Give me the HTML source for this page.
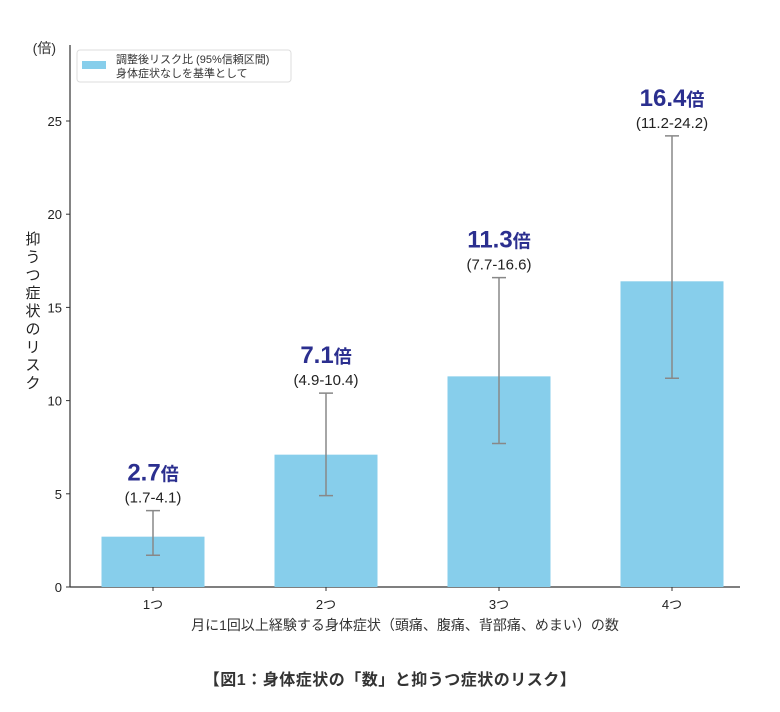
<!DOCTYPE html>
<html><head><meta charset="utf-8"><style>
body{margin:0;background:#fff;}
svg text{font-family:"Liberation Sans","Noto Sans CJK JP",sans-serif;}
</style></head><body>
<svg id="chart" width="780" height="707" xmlns="http://www.w3.org/2000/svg">
<rect width="780" height="707" fill="#fff"/>
<g id="g"></g>
</svg>
<script>
const categories=["1つ","2つ","3つ","4つ"];
const values=[2.7,7.1,11.3,16.4];
const lowers=[1.7,4.9,7.7,11.2];
const uppers=[4.1,10.4,16.6,24.2];
const ciLabels=["(1.7-4.1)","(4.9-10.4)","(7.7-16.6)","(11.2-24.2)"];
const yTicks=[0,5,10,15,20,25];
const NS="http://www.w3.org/2000/svg";
const g=document.getElementById('g');
const y0=587, unit=18.64, x0=153, step=173, bw=103;
const Y=v=>y0-v*unit, X=i=>x0+i*step;
function el(t,a,txt){const e=document.createElementNS(NS,t);for(const k in a)e.setAttribute(k,a[k]);if(txt!=null)e.textContent=txt;g.appendChild(e);return e;}
let ax=el('line',{x1:70,y1:45,x2:70,y2:y0,stroke:'#333','stroke-width':1.2});


let axx=el('line',{x1:70,y1:y0,x2:740,y2:y0,stroke:'#333','stroke-width':1.2});


yTicks.forEach(v=>{
  let t=el('line',{x1:66,y1:Y(v),x2:70,y2:Y(v),stroke:'#333'});
  
  
  let l=el('text',{x:62,y:Y(v)+5,'text-anchor':'end','font-size':13,fill:'#222'},v);
  
  
});
categories.forEach((c,i)=>{
  let b=el('rect',{x:X(i)-bw/2,y:Y(values[i]),width:bw,height:values[i]*unit,fill:'#87CEEB'});
  
  
  let e=el('path',{d:`M${X(i)},${Y(uppers[i])}V${Y(lowers[i])}M${X(i)-7},${Y(uppers[i])}H${X(i)+7}M${X(i)-7},${Y(lowers[i])}H${X(i)+7}`,stroke:'#888','stroke-width':1.5,fill:'none'});
  
  
  let t=el('line',{x1:X(i),y1:y0,x2:X(i),y2:y0+4,stroke:'#333'});
  
  
  let xl=el('text',{x:X(i),y:y0+22,'text-anchor':'middle','font-size':13,fill:'#222'},c);
  
  
  let ci=el('text',{x:X(i),y:Y(uppers[i])-8,'text-anchor':'middle','font-size':15,fill:'#222'},ciLabels[i]);
  
  
  let vl=el('text',{x:X(i),y:Y(uppers[i])-30,'text-anchor':'middle','font-size':24,'font-weight':'bold',fill:'#2b2f8f'});
  
  
  vl.innerHTML=values[i].toFixed(1)+'<tspan font-size="18">倍</tspan>';
});
</script>
<svg width="780" height="707" style="position:absolute;left:0;top:0" xmlns="http://www.w3.org/2000/svg">
<text x="56" y="53" text-anchor="end" font-size="14" fill="#333">(倍)</text>
<g>
<rect x="77" y="50" width="214" height="32" rx="3" fill="#fff" stroke="#ddd"/>
<rect x="82" y="61" width="24" height="8" fill="#87CEEB"/>
<text x="116" y="63" font-size="11" fill="#333">調整後リスク比 (95%信頼区間)</text>
<text x="116" y="77" font-size="11" fill="#333">身体症状なしを基準として</text>
</g>
<text text-anchor="middle" font-size="15" fill="#222">
<tspan x="33" y="244">抑</tspan><tspan x="33" y="262">う</tspan><tspan x="33" y="280">つ</tspan><tspan x="33" y="298">症</tspan><tspan x="33" y="316">状</tspan><tspan x="33" y="334">の</tspan><tspan x="33" y="352">リ</tspan><tspan x="33" y="370">ス</tspan><tspan x="33" y="388">ク</tspan>
</text>
<text x="405" y="630" text-anchor="middle" font-size="14" fill="#333">月に1回以上経験する身体症状（頭痛、腹痛、背部痛、めまい）の数</text>
<text x="390" y="685" text-anchor="middle" font-size="16" font-weight="bold" fill="#333" letter-spacing="0.5">【図1：身体症状の「数」と抑うつ症状のリスク】</text>
</svg>
</body></html>
